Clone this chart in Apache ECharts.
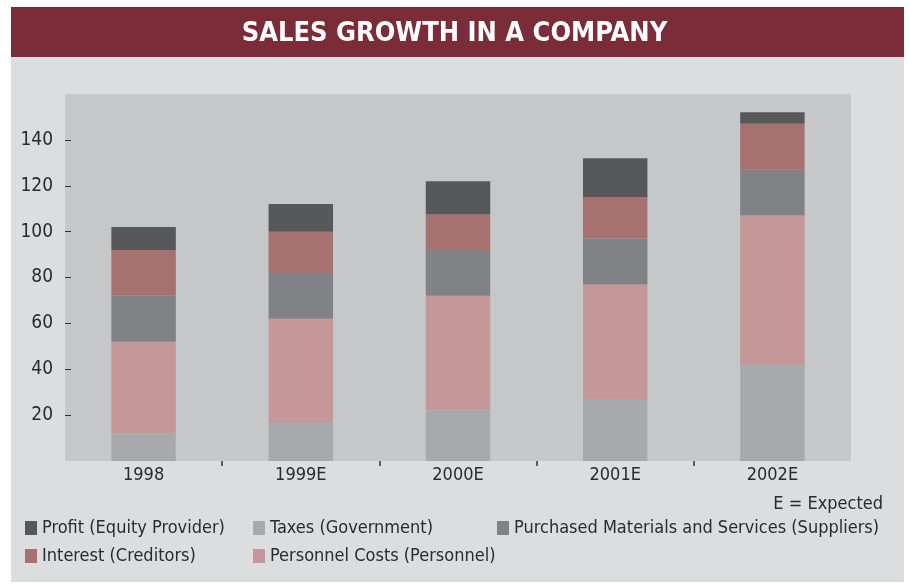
<!DOCTYPE html>
<html>
<head>
<meta charset="utf-8">
<script src="https://cdn.jsdelivr.net/npm/echarts@6/dist/echarts.min.js"></script>
<style>
  html, body { margin: 0; padding: 0; background: #ffffff; }
  #chart { width: 909px; height: 584px; }
</style>
</head>
<body>
<div id="chart"></div>
<script>
// data
var years = ['1998', '1999E', '2000E', '2001E', '2002E'];
var taxes = [12, 17, 22, 27, 42];
var personnel = [40, 45, 50, 50, 65];
var purchased = [20, 20, 20, 20, 20];
var interest = [20, 18, 15.5, 18, 20];
var profit = [10, 12, 14.5, 17, 5];
var yTicks = [20, 40, 60, 80, 100, 120, 140];
var xBounds = [1, 2, 3, 4]; // tick marks between the years

var FONT = '"Liberation Sans Narrow", "DejaVu Sans Condensed", sans-serif';
var TXT = '#2b2b2b';

var chart = echarts.init(document.getElementById('chart'));

function leg(name, left, top) {
	return {
		data: [name],
		left: left,
		top: top,
		itemWidth: 12,
		itemHeight: 14,
		itemGap: 6,
		icon: 'rect',
		selectedMode: false,
		padding: 0,
		textStyle: { fontFamily: FONT, fontSize: 18, color: TXT }
	};
}

function bar(name, data, color) {
	return {
		name: name,
		type: 'bar',
		stack: 'total',
		barWidth: '41%',
		itemStyle: { color: color },
		data: data
	};
}

chart.setOption({
	animation: false,
	textStyle: { fontFamily: FONT },
	graphic: [
		// title band and grey panel
		{ type: 'rect', z: -10, shape: { x: 11, y: 57, width: 893, height: 525 }, style: { fill: '#dcdddf' } },
		{ type: 'rect', z: -10, shape: { x: 11, y: 7, width: 893, height: 50 }, style: { fill: '#7a2c38' } }
	],
	title: [{
		text: 'SALES GROWTH IN A COMPANY',
		left: 'center',
		top: 15,
		textStyle: { fontFamily: FONT, fontSize: 27, fontWeight: 'bold', color: '#ffffff' }
	}, {
		text: 'E = Expected',
		right: 21,
		top: 490,
		textStyle: { fontFamily: FONT, fontSize: 18, fontWeight: 'normal', color: TXT }
	}],
	legend: [
		leg('Profit (Equity Provider)', 25, 519),
		leg('Taxes (Government)', 253, 519),
		leg('Purchased Materials and Services (Suppliers)', 497, 519),
		leg('Interest (Creditors)', 25, 547),
		leg('Personnel Costs (Personnel)', 253, 547)
	],
	grid: {
		left: 65, top: 94, right: 58, bottom: 123,
		show: true, backgroundColor: '#c6c7c9', borderWidth: 0
	},
	xAxis: [{
		type: 'category',
		data: years,
		axisLine: { show: false },
		axisTick: { show: false },
		axisLabel: { fontSize: 18, color: TXT, margin: 5, fontFamily: FONT }
	}, {
		// tick-only axis for the separators
		type: 'value',
		position: 'bottom',
		min: 0,
		max: 5,
		interval: 1,
		splitLine: { show: false },
		axisLine: { show: false },
		axisLabel: { show: false },
		axisTick: { show: true, length: 5, customValues: xBounds, lineStyle: { color: '#333', width: 1.5 } }
	}],
	yAxis: {
		type: 'value',
		min: 0,
		max: 160,
		interval: 20,
		splitLine: { show: false },
		axisLine: { show: false },
		axisTick: { show: true, inside: true, length: 6, customValues: yTicks, lineStyle: { color: '#333' } },
		axisLabel: {
			fontSize: 19, color: TXT, margin: 12, fontFamily: FONT,
			customValues: yTicks
		}
	},
	series: [
		bar('Taxes (Government)', taxes, '#a8a9ad'),
		bar('Personnel Costs (Personnel)', personnel, '#c49798'),
		bar('Purchased Materials and Services (Suppliers)', purchased, '#818286'),
		bar('Interest (Creditors)', interest, '#a77170'),
		bar('Profit (Equity Provider)', profit, '#57585a')
	]
});
</script>
</body>
</html>
